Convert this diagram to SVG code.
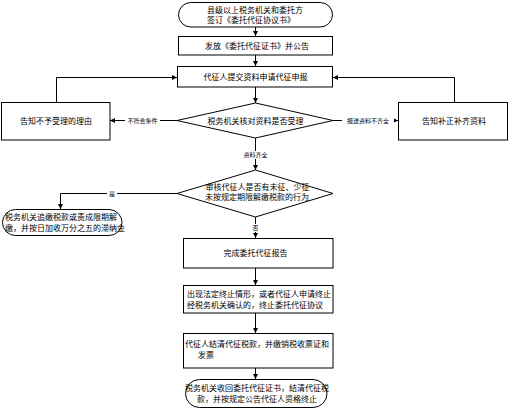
<svg xmlns="http://www.w3.org/2000/svg" width="510" height="410" viewBox="0 0 510 410">
<style>
.n{fill:#fff;stroke:#000;stroke-width:1}
.t{font-family:"Noto Sans CJK SC","Noto Sans",sans-serif;font-size:8px;fill:#000}
.c{text-anchor:middle}
.l{font-family:"Noto Sans CJK SC","Noto Sans",sans-serif;font-size:6px;fill:#000;text-anchor:middle}
.e{fill:none;stroke:#000;stroke-width:1;marker-end:url(#a)}
</style>
<defs>
<marker id="a" viewBox="0 0 10 10" refX="10" refY="5" markerWidth="5" markerHeight="5" orient="auto" markerUnits="userSpaceOnUse">
<path d="M0,0 L10,5 L0,10 z" fill="#000"/>
</marker>
</defs>
<rect width="510" height="410" fill="#fff"/>
<g id="connectors">
<path class="e" d="M255.5,27 V36"/>
<path class="e" d="M255.5,55 V66"/>
<path class="e" d="M255.5,87 V103"/>
<path class="e" d="M177,120.5 H110"/>
<path class="e" d="M333,120.5 H398"/>
<path class="e" d="M56.5,102 V77.5 H177"/>
<path class="e" d="M454.5,102 V77.5 H333"/>
<path class="e" d="M255.5,138 V170"/>
<path class="e" d="M177,193.5 H60.5 V209"/>
<path class="e" d="M255.5,217 V238"/>
<path class="e" d="M255.5,268 V285"/>
<path class="e" d="M255.5,313 V333"/>
<path class="e" d="M255.5,368 V379"/>
<rect x="125" y="117" width="35" height="8" fill="#fff"/>
<text class="l" x="142.5" y="123">不符合条件</text>
<rect x="342" y="117" width="52" height="8" fill="#fff"/>
<text class="l" x="368" y="123">报送资料不齐全</text>
<rect x="242" y="151" width="27" height="8" fill="#fff"/>
<text class="l" x="255.5" y="157">资料齐全</text>
<rect x="107" y="190" width="10" height="8" fill="#fff"/>
<text class="l" x="112" y="196">是</text>
<rect x="250" y="224" width="11" height="8" fill="#fff"/>
<text class="l" x="255.5" y="230">否</text>
</g>
<g id="n1">
<rect class="n" x="178.5" y="2.5" width="154" height="24.5" rx="12.25"/>
<text class="t" x="207" y="13">县级以上税务机关和委托方</text>
<text class="t" x="207" y="23">签订《委托代征协议书》</text>
</g>
<g id="n2">
<rect class="n" x="178.5" y="36.5" width="154" height="18.5"/>
<text class="t" x="205" y="48.5">发放《委托代征证书》并公告</text>
</g>
<g id="n3">
<rect class="n" x="177.5" y="66.5" width="155" height="20.5"/>
<text class="t c" x="255.5" y="79.5">代征人提交资料申请代征申报</text>
</g>
<g id="n4">
<polygon class="n" points="255.5,103 333,120.5 255.5,138 177,120.5"/>
<text class="t c" x="255.5" y="123.5">税务机关核对资料是否受理</text>
</g>
<g id="n5">
<rect class="n" x="1.5" y="102.5" width="108.5" height="37.5"/>
<text class="t c" x="56" y="124">告知不予受理的理由</text>
</g>
<g id="n6">
<rect class="n" x="398.5" y="102.5" width="109" height="37.5"/>
<text class="t c" x="454" y="124">告知补正补齐资料</text>
</g>
<g id="n7">
<polygon class="n" points="255.5,170 333,193.5 255.5,217 177,193.5"/>
<text class="t" x="205.5" y="190">审核代征人是否有未征、少征</text>
<text class="t" x="205" y="200">未按规定期限解缴税款的行为</text>
</g>
<g id="n8">
<rect class="n" x="2.5" y="209.5" width="119.5" height="26" rx="13"/>
<text class="t" x="5" y="220">税务机关追缴税款或责成限期解</text>
<text class="t" x="5" y="231">缴，并按日加收万分之五的滞纳金</text>
</g>
<g id="n9">
<rect class="n" x="183.5" y="238.5" width="149.5" height="29.5"/>
<text class="t c" x="255.5" y="256">完成委托代征报告</text>
</g>
<g id="n10">
<rect class="n" x="183.5" y="285.5" width="149.5" height="27.5"/>
<text class="t" x="187" y="297">出现法定终止情形，或者代征人申请终止</text>
<text class="t" x="187" y="308">经税务机关确认的，终止委托代征协议</text>
</g>
<g id="n11">
<rect class="n" x="183.5" y="333.5" width="149.5" height="34.5"/>
<text class="t" x="185" y="347">代征人结清代征税款，并缴销税收票证和</text>
<text class="t" x="198" y="358">发票</text>
</g>
<g id="n12">
<rect class="n" x="185.5" y="379.5" width="141.5" height="28" rx="14"/>
<text class="t" x="185" y="391">税务机关收回委托代征证书，结清代征税</text>
<text class="t" x="197" y="402">款，并按规定公告代征人资格终止</text>
</g>
</svg>
